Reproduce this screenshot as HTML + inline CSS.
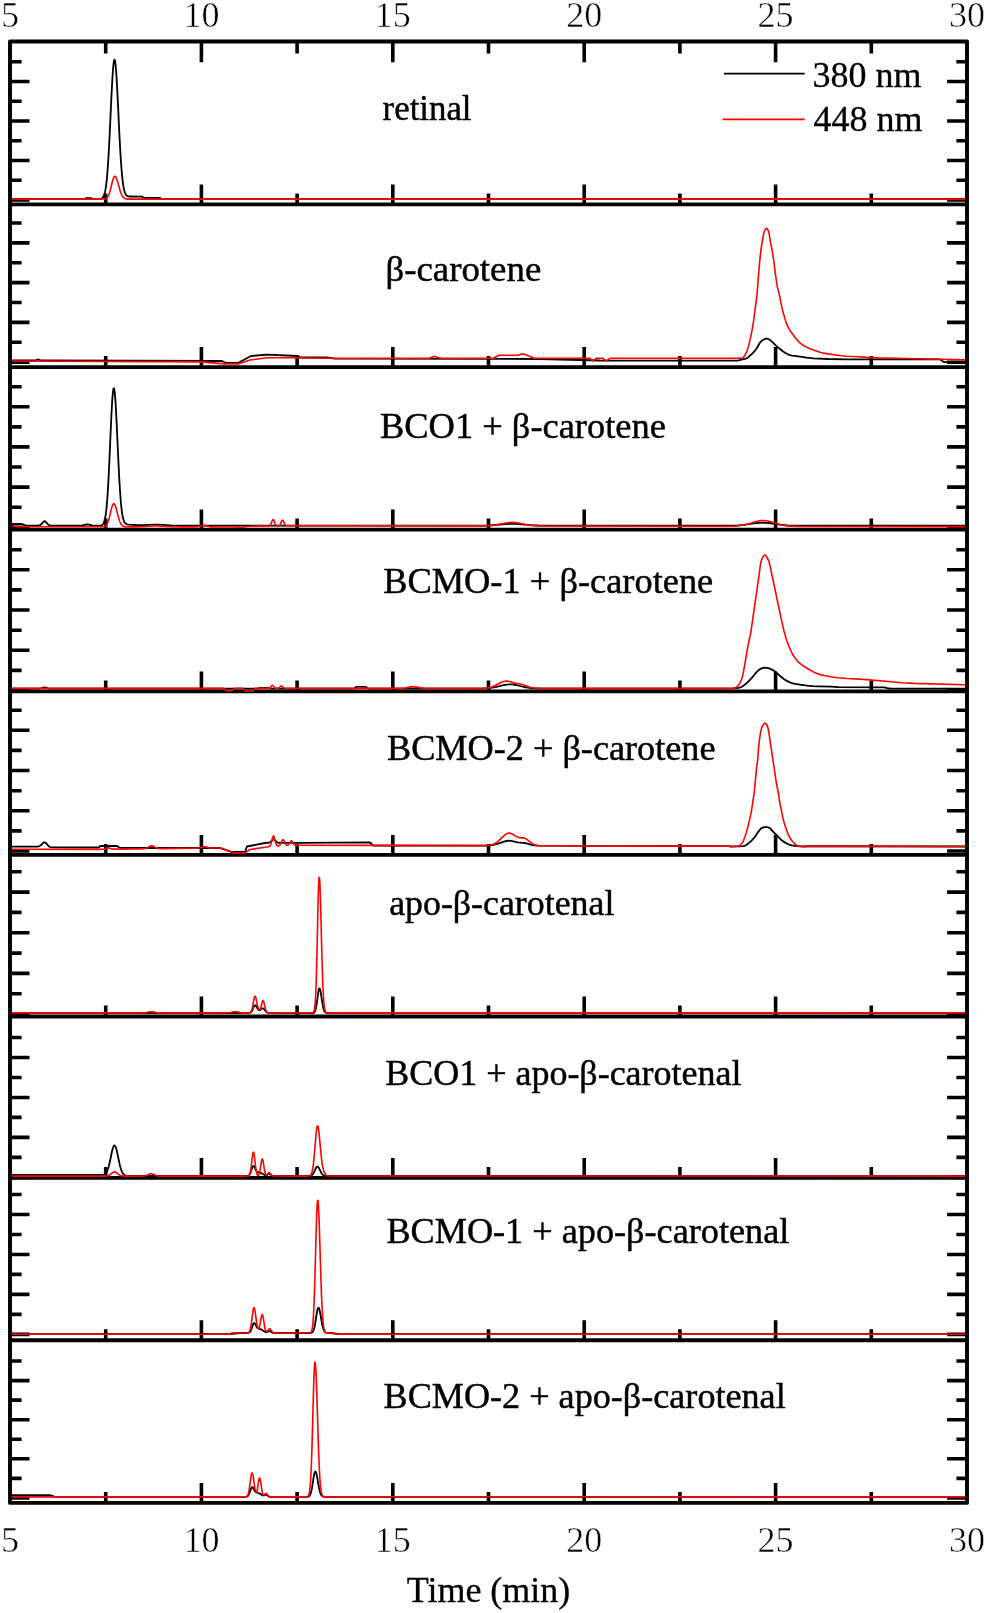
<!DOCTYPE html>
<html><head><meta charset="utf-8"><style>
html,body{margin:0;padding:0;background:#fff;width:986px;height:1613px;overflow:hidden}
svg{display:block;will-change:transform}
</style></head><body>
<svg width="986" height="1613" viewBox="0 0 986 1613"><rect width="986" height="1613" fill="#fff"/><path d="M10.0,199.9H29.5M967.0,199.9H947.1M10.0,180.2H21.6M967.0,180.2H956.4M10.0,160.5H29.5M967.0,160.5H947.1M10.0,140.7H21.6M967.0,140.7H956.4M10.0,121.0H29.5M967.0,121.0H947.1M10.0,101.3H21.6M967.0,101.3H956.4M10.0,81.5H29.5M967.0,81.5H947.1M10.0,61.8H21.6M967.0,61.8H956.4M201.4,204.4V184.4M392.8,204.4V184.4M584.2,204.4V184.4M775.6,204.4V184.4M105.7,204.4V193.4M297.1,204.4V193.4M488.5,204.4V193.4M679.9,204.4V193.4M871.3,204.4V193.4M10.0,362.2H29.5M967.0,362.2H947.1M10.0,342.3H21.6M967.0,342.3H956.4M10.0,322.4H29.5M967.0,322.4H947.1M10.0,302.5H21.6M967.0,302.5H956.4M10.0,282.6H29.5M967.0,282.6H947.1M10.0,262.8H21.6M967.0,262.8H956.4M10.0,242.9H29.5M967.0,242.9H947.1M10.0,223.0H21.6M967.0,223.0H956.4M201.4,367.1V347.1M392.8,367.1V347.1M584.2,367.1V347.1M775.6,367.1V347.1M105.7,367.1V356.1M297.1,367.1V356.1M488.5,367.1V356.1M679.9,367.1V356.1M871.3,367.1V356.1M10.0,527.3H29.5M967.0,527.3H947.1M10.0,507.2H21.6M967.0,507.2H956.4M10.0,487.1H29.5M967.0,487.1H947.1M10.0,467.0H21.6M967.0,467.0H956.4M10.0,446.9H29.5M967.0,446.9H947.1M10.0,426.9H21.6M967.0,426.9H956.4M10.0,406.8H29.5M967.0,406.8H947.1M10.0,386.7H21.6M967.0,386.7H956.4M201.4,529.6V509.6M392.8,529.6V509.6M584.2,529.6V509.6M775.6,529.6V509.6M105.7,529.6V518.6M297.1,529.6V518.6M488.5,529.6V518.6M679.9,529.6V518.6M871.3,529.6V518.6M10.0,690.5H29.5M967.0,690.5H947.1M10.0,670.4H21.6M967.0,670.4H956.4M10.0,650.3H29.5M967.0,650.3H947.1M10.0,630.2H21.6M967.0,630.2H956.4M10.0,610.0H29.5M967.0,610.0H947.1M10.0,589.9H21.6M967.0,589.9H956.4M10.0,569.8H29.5M967.0,569.8H947.1M10.0,549.7H21.6M967.0,549.7H956.4M201.4,691.4V671.4M392.8,691.4V671.4M584.2,691.4V671.4M775.6,691.4V671.4M105.7,691.4V680.4M297.1,691.4V680.4M488.5,691.4V680.4M679.9,691.4V680.4M871.3,691.4V680.4M10.0,851.0H29.5M967.0,851.0H947.1M10.0,830.9H21.6M967.0,830.9H956.4M10.0,810.8H29.5M967.0,810.8H947.1M10.0,790.7H21.6M967.0,790.7H956.4M10.0,770.5H29.5M967.0,770.5H947.1M10.0,750.4H21.6M967.0,750.4H956.4M10.0,730.3H29.5M967.0,730.3H947.1M10.0,710.2H21.6M967.0,710.2H956.4M201.4,854.9V834.9M392.8,854.9V834.9M584.2,854.9V834.9M775.6,854.9V834.9M105.7,854.9V843.9M297.1,854.9V843.9M488.5,854.9V843.9M679.9,854.9V843.9M871.3,854.9V843.9M10.0,1014.1H29.5M967.0,1014.1H947.1M10.0,993.8H21.6M967.0,993.8H956.4M10.0,973.4H29.5M967.0,973.4H947.1M10.0,953.1H21.6M967.0,953.1H956.4M10.0,932.8H29.5M967.0,932.8H947.1M10.0,912.4H21.6M967.0,912.4H956.4M10.0,892.1H29.5M967.0,892.1H947.1M10.0,871.7H21.6M967.0,871.7H956.4M201.4,1016.5V996.5M392.8,1016.5V996.5M584.2,1016.5V996.5M775.6,1016.5V996.5M105.7,1016.5V1005.5M297.1,1016.5V1005.5M488.5,1016.5V1005.5M679.9,1016.5V1005.5M871.3,1016.5V1005.5M10.0,1177.4H29.5M967.0,1177.4H947.1M10.0,1157.4H21.6M967.0,1157.4H956.4M10.0,1137.4H29.5M967.0,1137.4H947.1M10.0,1117.4H21.6M967.0,1117.4H956.4M10.0,1097.5H29.5M967.0,1097.5H947.1M10.0,1077.5H21.6M967.0,1077.5H956.4M10.0,1057.5H29.5M967.0,1057.5H947.1M10.0,1037.5H21.6M967.0,1037.5H956.4M201.4,1177.9V1157.9M392.8,1177.9V1157.9M584.2,1177.9V1157.9M775.6,1177.9V1157.9M105.7,1177.9V1166.9M297.1,1177.9V1166.9M488.5,1177.9V1166.9M679.9,1177.9V1166.9M871.3,1177.9V1166.9M10.0,1334.4H29.5M967.0,1334.4H947.1M10.0,1314.4H21.6M967.0,1314.4H956.4M10.0,1294.4H29.5M967.0,1294.4H947.1M10.0,1274.4H21.6M967.0,1274.4H956.4M10.0,1254.5H29.5M967.0,1254.5H947.1M10.0,1234.5H21.6M967.0,1234.5H956.4M10.0,1214.5H29.5M967.0,1214.5H947.1M10.0,1194.5H21.6M967.0,1194.5H956.4M201.4,1340.3V1320.3M392.8,1340.3V1320.3M584.2,1340.3V1320.3M775.6,1340.3V1320.3M105.7,1340.3V1329.3M297.1,1340.3V1329.3M488.5,1340.3V1329.3M679.9,1340.3V1329.3M871.3,1340.3V1329.3M10.0,1498.0H29.5M967.0,1498.0H947.1M10.0,1478.4H21.6M967.0,1478.4H956.4M10.0,1458.8H29.5M967.0,1458.8H947.1M10.0,1439.3H21.6M967.0,1439.3H956.4M10.0,1419.7H29.5M967.0,1419.7H947.1M10.0,1400.1H21.6M967.0,1400.1H956.4M10.0,1380.6H29.5M967.0,1380.6H947.1M10.0,1361.0H21.6M967.0,1361.0H956.4M201.4,1502.9V1482.9M392.8,1502.9V1482.9M584.2,1502.9V1482.9M775.6,1502.9V1482.9M105.7,1502.9V1491.9M297.1,1502.9V1491.9M488.5,1502.9V1491.9M679.9,1502.9V1491.9M871.3,1502.9V1491.9M201.4,41.5V62.3M392.8,41.5V62.3M584.2,41.5V62.3M775.6,41.5V62.3M105.7,41.5V53.5M297.1,41.5V53.5M488.5,41.5V53.5M679.9,41.5V53.5M871.3,41.5V53.5" stroke="#000" stroke-width="3.6" fill="none"/><path d="M10.0,41.5H967.0V1502.9H10.0ZM10.0,204.4H967.0M10.0,367.1H967.0M10.0,529.6H967.0M10.0,691.4H967.0M10.0,854.9H967.0M10.0,1016.5H967.0M10.0,1177.9H967.0M10.0,1340.3H967.0" stroke="#000" stroke-width="3.9" fill="none" stroke-linejoin="round"/><path d="M12.0,199.1 85.0,199.1 85.5,198.5 86.0,198.1 91.5,198.1 92.0,198.5 92.5,199.1 98.5,199.1 100.5,198.9 101.5,198.6 102.5,197.9 103.0,197.3 103.5,196.5 104.0,195.4 104.5,193.9 105.0,191.9 105.5,189.4 106.0,186.1 106.5,182.1 107.0,177.1 107.5,171.2 108.0,164.3 108.5,156.4 109.0,147.5 109.5,137.8 110.0,127.4 111.0,105.8 111.5,95.3 112.0,85.5 112.5,76.8 113.0,69.5 113.5,64.1 114.0,60.7 114.5,59.6 115.0,60.7 115.5,64.1 116.0,69.5 116.5,76.6 117.0,85.1 117.5,94.7 118.0,105.0 119.0,126.2 119.5,136.3 120.0,145.8 120.5,154.5 121.0,162.2 121.5,168.9 122.0,174.6 122.5,179.6 123.0,183.6 123.5,186.9 124.0,189.4 124.5,191.4 125.0,192.9 125.5,194.0 126.0,194.8 126.5,195.4 127.5,196.1 129.0,196.5 142.5,196.6 143.0,197.5 143.5,197.8 160.0,197.8 160.5,198.6 161.0,199.1 965.0,199.1" fill="none" stroke="#000" stroke-width="1.8" stroke-linejoin="round"/><path d="M12.0,199.1 100.0,199.1 103.5,199.0 105.0,198.8 106.0,198.4 107.0,197.7 107.5,197.1 108.0,196.4 108.5,195.4 109.0,194.2 109.5,192.8 110.0,191.2 111.0,187.4 112.0,183.2 112.5,181.2 113.0,179.5 113.5,178.0 114.0,177.0 114.5,176.4 115.0,176.3 115.5,176.7 116.0,177.4 116.5,178.5 117.0,179.8 118.0,183.1 119.5,188.5 120.5,191.7 121.0,193.1 121.5,194.3 122.0,195.3 123.0,196.9 124.0,197.9 125.0,198.5 126.5,198.9 130.0,199.1 965.0,199.1" fill="none" stroke="#f00" stroke-width="1.6" stroke-linejoin="round"/><path d="M12.0,360.5 35.0,360.5 38.0,359.3 41.0,360.5 222.0,361.0 226.0,363.0 238.0,363.0 251.0,356.0 267.0,354.6 298.0,356.0 300.0,357.5 327.0,357.5 335.0,358.6 540.0,359.0 600.0,360.5 738.0,360.6 742.5,359.4 745.0,358.8 746.5,358.3 748.0,357.4 751.0,354.8 753.0,352.9 755.0,350.6 756.5,348.5 757.5,347.0 759.0,344.2 760.0,342.6 761.5,341.1 762.5,340.3 764.5,339.2 766.0,338.7 767.0,338.7 768.5,339.2 770.0,340.0 771.5,341.2 774.0,343.6 776.0,345.6 779.0,348.3 782.5,351.0 785.0,352.7 788.0,354.3 790.0,355.1 792.5,355.7 800.0,356.7 806.5,357.7 813.5,358.3 828.0,359.0 846.5,359.3 940.0,359.3 944.0,362.2 965.0,362.2" fill="none" stroke="#000" stroke-width="1.8" stroke-linejoin="round"/><path d="M12.0,361.0 200.0,361.9 225.0,363.9 238.0,363.9 250.0,360.0 267.0,357.8 300.0,357.8 330.0,358.3 429.0,358.3 434.5,356.2 440.0,358.3 493.0,358.3 499.0,355.2 518.0,355.2 522.5,353.8 528.0,355.5 534.0,358.3 590.0,358.3 593.0,361.0 596.0,358.3 603.0,358.3 606.0,361.2 610.0,358.3 740.0,358.3 742.0,358.1 743.0,357.8 743.5,357.3 745.0,355.0 746.0,353.2 747.0,351.0 747.5,349.6 748.0,348.0 748.5,346.2 749.5,342.1 751.0,335.3 752.0,330.3 752.5,327.6 753.0,324.7 753.5,321.4 754.0,318.0 754.5,314.3 756.0,302.3 756.5,298.7 757.0,294.5 757.5,288.5 758.0,281.8 759.0,269.3 759.5,263.6 760.0,258.3 760.5,253.6 761.0,249.6 761.5,246.2 763.0,237.0 763.5,234.3 764.0,232.5 764.5,231.2 765.0,230.0 765.5,229.1 766.0,228.6 766.5,228.5 767.0,228.8 767.5,229.4 768.0,230.2 768.5,231.3 769.0,232.8 769.5,235.9 770.0,239.4 770.5,242.4 772.0,249.7 772.5,252.5 773.0,255.6 773.5,259.0 774.0,262.6 774.5,266.5 775.0,270.7 775.5,274.7 776.5,281.8 777.0,284.9 777.5,287.4 778.0,289.5 779.0,293.2 779.5,295.4 781.0,303.3 781.5,305.6 782.5,309.9 783.5,313.7 785.0,318.8 786.0,321.9 787.0,324.7 788.0,326.9 789.0,328.8 790.5,331.2 794.0,336.1 796.5,339.3 798.5,341.5 800.5,343.4 803.0,345.2 806.0,346.9 809.5,348.6 814.0,350.3 820.0,352.3 823.0,353.1 841.0,355.7 846.5,356.3 860.0,356.8 867.0,357.4 877.5,357.9 894.5,358.3 965.0,359.7" fill="none" stroke="#f00" stroke-width="1.6" stroke-linejoin="round"/><path d="M12.0,524.0 22.0,524.0 26.0,525.7 37.0,525.7 39.0,525.5 40.0,525.2 41.0,524.5 42.0,523.5 43.0,522.2 44.0,521.4 44.5,521.2 45.0,521.3 45.5,521.6 46.5,522.6 47.5,523.8 48.5,524.8 49.5,525.3 51.0,525.6 76.5,525.7 80.0,525.6 82.5,525.3 85.5,524.6 87.0,524.5 89.0,524.7 92.0,525.4 95.0,525.7 99.0,525.7 100.5,525.6 101.5,525.3 102.5,524.7 103.0,524.2 103.5,523.4 104.0,522.3 104.5,520.8 105.0,518.8 105.5,516.1 106.0,512.5 106.5,508.1 107.0,502.6 107.5,495.9 108.0,488.1 108.5,479.1 109.0,469.1 109.5,458.3 110.0,446.9 110.5,435.3 111.0,424.0 111.5,413.5 112.0,404.3 112.5,396.8 113.0,391.5 113.5,388.6 114.0,388.3 114.5,390.6 115.0,395.2 115.5,401.9 116.0,410.3 116.5,420.1 117.0,430.7 118.0,452.8 118.5,463.5 119.0,473.5 119.5,482.7 120.0,490.8 120.5,497.8 121.0,503.7 121.5,508.6 122.0,512.5 122.5,515.7 123.0,518.1 123.5,519.9 124.0,521.3 124.5,522.3 125.0,523.0 126.0,523.9 127.0,524.3 129.0,524.7 136.0,525.0 142.5,525.1 154.0,524.6 158.5,524.6 170.5,525.4 179.0,525.6 465.5,525.7 481.0,525.6 489.0,525.4 497.0,524.8 505.5,524.0 510.5,523.7 515.5,523.8 531.0,525.1 538.5,525.5 556.0,525.7 718.5,525.7 731.0,525.6 738.0,525.4 744.0,524.8 755.5,523.2 760.0,522.8 764.0,522.7 768.5,523.0 780.5,524.7 786.5,525.3 794.0,525.6 965.0,525.7" fill="none" stroke="#000" stroke-width="1.8" stroke-linejoin="round"/><path d="M12.0,525.5 18.0,526.7 99.5,526.8 102.5,526.8 104.0,526.5 105.0,526.2 106.0,525.4 106.5,524.8 107.0,524.0 107.5,523.1 108.0,521.9 108.5,520.4 109.0,518.8 110.0,514.9 111.0,510.6 111.5,508.6 112.0,506.8 112.5,505.4 113.0,504.3 113.5,503.7 114.0,503.7 114.5,504.1 115.0,505.0 115.5,506.2 116.0,507.8 117.0,511.6 118.0,515.5 119.0,519.1 119.5,520.7 120.0,522.0 120.5,523.1 121.0,524.0 121.5,524.8 122.5,525.8 123.5,526.4 125.0,526.7 133.0,526.9 141.5,526.7 153.5,526.0 158.0,525.9 171.0,526.7 181.0,526.9 194.5,526.9 197.5,526.8 199.5,526.5 202.5,525.6 204.0,525.5 205.5,525.6 209.0,526.6 211.5,526.9 230.0,527.0 242.0,527.3 250.0,526.2 267.5,526.0 269.0,525.9 269.5,525.8 270.0,525.4 270.5,524.8 271.0,523.9 272.0,521.2 272.5,520.0 273.0,519.5 273.5,519.7 274.0,520.7 275.0,523.4 275.5,524.4 276.0,525.2 276.5,525.6 277.5,525.9 278.5,525.8 279.0,525.7 279.5,525.3 280.0,524.7 280.5,523.8 281.5,521.4 282.0,520.4 282.5,520.1 283.0,520.4 283.5,521.4 284.5,523.8 285.0,524.7 285.5,525.3 286.0,525.6 287.0,525.8 475.0,525.9 485.0,525.9 490.5,525.6 495.0,525.1 500.5,524.1 506.0,523.0 509.5,522.5 512.5,522.4 515.5,522.6 520.0,523.4 526.5,524.7 531.0,525.4 536.5,525.8 549.5,526.0 720.0,526.3 731.0,526.2 736.5,526.0 741.0,525.5 745.0,524.8 749.5,523.6 755.5,521.7 758.5,521.0 761.0,520.6 763.5,520.5 766.0,520.7 769.0,521.3 778.0,524.1 782.0,525.0 786.0,525.7 791.0,526.1 800.5,526.4 965.0,526.6" fill="none" stroke="#f00" stroke-width="1.6" stroke-linejoin="round"/><path d="M12.0,688.6 38.0,688.6 40.0,688.5 41.5,688.2 43.5,687.6 44.5,687.4 45.5,687.5 48.0,688.3 50.0,688.6 258.0,688.6 260.0,687.8 268.0,687.8 270.0,688.6 354.0,688.6 356.0,686.8 366.0,686.8 368.0,688.6 473.0,688.6 482.5,688.5 488.0,688.2 492.0,687.7 496.5,686.9 503.5,685.1 506.5,684.6 509.5,684.3 512.5,684.4 516.0,685.0 524.0,687.0 528.0,687.7 532.5,688.3 539.0,688.5 725.0,688.6 734.0,688.4 736.5,688.2 739.5,687.6 741.5,687.0 743.0,686.1 747.0,682.8 749.5,680.3 752.0,677.7 755.5,673.3 757.0,671.7 759.0,669.9 760.5,668.8 762.5,668.1 764.0,667.7 766.0,667.8 768.0,668.1 770.0,668.7 772.5,669.9 774.5,671.1 776.5,672.6 780.5,676.3 783.5,678.7 786.0,680.4 789.5,682.1 792.0,683.2 795.0,683.9 805.0,685.4 812.0,686.2 817.5,686.4 831.0,686.6 838.5,687.2 884.0,687.4 885.5,687.7 887.0,688.2 890.5,688.5 965.0,688.6" fill="none" stroke="#000" stroke-width="1.8" stroke-linejoin="round"/><path d="M12.0,688.4 224.0,688.4 226.0,690.8 232.0,690.8 234.0,688.4 243.0,688.4 245.0,691.0 253.0,691.0 255.0,688.4 267.5,688.4 269.0,688.3 270.0,687.9 270.5,687.4 271.5,686.0 272.0,685.5 272.5,685.4 273.0,685.7 274.5,687.6 275.0,688.0 276.0,688.3 277.5,688.4 278.5,688.2 279.5,687.5 280.5,686.4 281.0,686.0 281.5,685.9 282.0,686.2 283.5,687.7 284.5,688.3 391.5,688.4 399.5,688.4 403.0,688.2 406.5,687.7 410.5,686.9 413.0,686.7 415.5,686.9 421.0,687.9 424.5,688.3 473.0,688.4 481.5,688.3 485.5,688.1 488.5,687.7 491.0,687.2 493.5,686.3 496.5,684.8 500.5,682.7 502.5,681.8 504.5,681.3 506.5,681.1 508.5,681.3 515.0,683.1 521.5,684.3 524.5,685.2 529.5,686.9 532.5,687.7 535.5,688.2 541.0,688.4 724.5,688.4 733.0,688.1 735.0,687.9 736.0,687.4 737.0,686.6 738.5,685.0 739.5,683.6 740.5,681.8 741.5,679.5 742.0,678.1 742.5,676.4 743.0,674.2 743.5,671.7 745.5,660.4 747.0,651.3 747.5,648.4 748.0,645.7 748.5,643.3 750.0,636.5 750.5,633.9 751.0,631.0 751.5,627.8 753.0,617.4 754.5,606.7 755.5,599.8 757.0,589.7 758.5,579.0 759.5,571.9 760.0,568.0 760.5,564.4 761.0,561.7 761.5,560.2 762.5,557.8 763.0,556.9 763.5,556.1 764.0,555.5 764.5,555.2 765.0,555.1 765.5,555.3 766.0,555.8 766.5,556.5 767.5,558.3 768.5,560.5 769.0,561.8 769.5,563.5 770.0,565.6 771.5,572.9 773.5,582.1 776.0,594.0 778.0,603.7 780.5,615.4 783.0,626.8 784.0,631.1 785.0,634.8 786.0,638.1 787.0,641.2 788.0,643.9 789.5,647.6 791.0,651.0 792.5,654.0 794.0,656.5 795.5,658.6 797.0,660.5 798.5,662.2 800.5,663.9 803.0,665.7 809.5,669.7 813.5,671.9 817.0,673.4 819.5,674.4 824.0,675.5 832.5,677.0 837.5,677.7 847.0,678.5 863.5,679.4 891.0,681.8 902.0,682.8 914.0,683.4 965.0,684.7" fill="none" stroke="#f00" stroke-width="1.6" stroke-linejoin="round"/><path d="M12.0,846.7 35.5,846.7 37.5,846.6 39.0,846.3 40.0,845.8 41.0,845.1 43.0,843.0 44.0,842.4 44.5,842.3 45.0,842.4 46.0,843.1 48.0,845.4 49.0,846.4 50.0,847.0 51.5,847.4 99.0,847.5 100.0,846.0 117.0,846.0 120.0,848.0 220.0,847.8 230.0,851.5 232.0,852.0 245.0,852.0 247.0,846.5 265.0,843.0 267.5,842.9 269.0,842.7 270.0,842.2 271.0,841.4 272.5,839.9 273.0,839.6 273.5,839.5 274.0,839.6 275.0,840.3 276.5,841.8 277.5,842.5 278.5,842.8 300.0,842.8 370.0,842.3 373.0,845.5 478.5,845.7 486.5,845.6 490.5,845.4 493.5,844.9 496.5,844.2 504.0,841.6 506.5,841.0 508.5,840.7 510.5,840.8 513.5,841.3 517.5,842.3 521.0,842.7 524.5,843.0 527.5,843.7 531.5,844.8 534.5,845.4 538.0,845.7 729.5,846.1 730.0,846.5 739.0,846.4 743.0,846.1 744.5,845.9 745.5,845.5 747.0,844.5 750.5,841.6 752.5,839.7 754.5,837.4 755.5,836.0 757.5,832.9 759.5,830.2 760.5,829.0 761.5,828.2 763.5,827.4 765.0,827.1 766.5,827.0 768.5,827.5 769.5,827.9 770.5,828.6 773.0,831.6 777.5,836.0 780.0,838.7 781.5,840.1 784.0,841.9 787.0,843.6 789.5,844.7 791.5,845.3 795.5,845.9 800.0,846.4 806.0,846.5 806.5,846.2 965.0,846.5" fill="none" stroke="#000" stroke-width="1.8" stroke-linejoin="round"/><path d="M12.0,849.2 100.0,849.4 103.0,849.3 104.5,849.0 107.0,847.9 108.0,847.7 109.0,847.9 111.0,848.8 112.5,849.1 139.5,848.9 143.5,848.8 145.5,848.5 147.0,848.0 150.0,846.3 151.0,845.9 152.0,845.8 153.0,846.1 156.0,847.7 157.5,848.3 159.5,848.6 193.0,848.3 196.5,848.2 198.5,848.0 202.5,846.9 204.0,846.7 205.5,846.8 209.0,847.8 211.5,848.0 220.0,848.0 230.0,851.0 232.0,852.9 245.0,852.9 250.0,849.5 265.0,847.3 268.5,846.7 269.5,846.3 270.0,845.8 270.5,845.1 271.0,843.8 271.5,842.1 272.5,838.0 273.0,836.4 273.5,835.8 274.0,836.4 274.5,837.9 275.5,841.9 276.0,843.6 276.5,844.8 277.0,845.5 277.5,845.8 278.5,845.9 279.5,845.5 280.0,844.9 280.5,844.1 282.0,840.8 282.5,840.0 283.0,839.6 283.5,839.9 284.0,840.7 285.0,842.9 285.5,843.9 286.0,844.6 286.5,845.1 287.0,845.3 287.5,845.3 288.0,845.2 288.5,844.8 289.0,844.2 290.5,841.5 291.0,840.9 291.5,840.7 292.0,841.1 292.5,841.8 293.5,843.6 294.0,844.3 294.5,844.7 295.5,845.1 475.0,845.6 484.0,845.5 488.0,845.3 490.5,845.0 492.5,844.5 494.5,843.7 496.5,842.5 498.5,840.9 503.5,836.1 505.0,834.8 506.5,833.8 508.0,833.2 509.5,833.1 511.0,833.5 512.5,834.2 516.0,836.4 517.5,837.1 519.0,837.6 523.0,837.9 524.5,838.2 526.0,838.8 527.5,839.8 531.0,842.6 533.0,843.9 534.5,844.7 536.5,845.2 539.0,845.6 729.5,846.1 730.0,846.5 737.0,846.3 738.5,846.2 739.5,845.7 740.5,844.8 742.0,843.1 742.5,842.5 743.0,841.6 743.5,840.5 745.0,836.5 746.0,833.5 747.0,830.0 748.0,826.3 749.0,822.2 750.0,817.9 751.0,813.2 751.5,810.5 752.0,807.3 753.0,800.5 753.5,797.3 754.0,793.9 754.5,789.5 755.0,784.4 755.5,779.0 756.0,773.8 756.5,768.9 757.0,764.8 757.5,761.1 758.0,755.7 758.5,748.6 759.0,743.5 759.5,739.4 760.0,735.8 760.5,732.9 761.0,730.6 761.5,728.6 762.0,727.0 762.5,725.9 763.5,724.3 764.0,723.7 764.5,723.3 765.0,723.2 765.5,723.4 766.0,723.8 766.5,724.5 767.5,726.3 768.0,728.0 768.5,730.7 769.0,733.6 769.5,736.9 775.5,777.2 776.0,780.6 776.5,783.8 777.0,786.5 778.0,791.0 778.5,793.7 779.5,800.6 780.0,803.5 782.5,816.1 783.0,818.4 783.5,820.4 784.5,823.8 785.5,826.9 787.0,831.2 788.0,833.9 789.0,836.1 790.5,838.7 792.0,840.8 793.5,842.5 796.0,844.9 797.0,845.6 798.0,846.1 801.0,846.4 806.0,846.5 806.5,846.2 965.0,846.5" fill="none" stroke="#f00" stroke-width="1.6" stroke-linejoin="round"/><path d="M12.0,1013.0 243.0,1013.0 248.0,1013.0 249.5,1012.8 250.5,1012.5 251.0,1012.2 251.5,1011.7 252.0,1010.9 252.5,1010.0 254.0,1006.5 254.5,1005.7 255.0,1005.3 255.5,1005.4 256.0,1005.9 257.5,1008.6 258.0,1009.4 258.5,1009.9 259.0,1010.2 259.5,1010.2 260.0,1010.1 261.0,1009.3 262.0,1008.5 262.5,1008.3 263.0,1008.3 263.5,1008.6 264.5,1009.7 265.5,1011.1 266.5,1012.1 267.5,1012.6 269.0,1012.9 310.5,1013.0 312.5,1013.0 313.5,1012.8 314.0,1012.6 314.5,1012.1 315.0,1011.3 315.5,1010.0 316.0,1008.0 316.5,1005.3 317.0,1001.9 318.0,994.2 318.5,991.0 319.0,988.9 319.5,988.4 320.0,989.3 320.5,991.3 321.0,994.1 322.0,1000.8 322.5,1003.9 323.0,1006.6 323.5,1008.7 324.0,1010.2 324.5,1011.3 325.0,1012.0 325.5,1012.5 326.5,1012.9 965.0,1013.0" fill="none" stroke="#000" stroke-width="1.8" stroke-linejoin="round"/><path d="M12.0,1012.9 139.5,1012.9 144.0,1012.8 146.5,1012.5 149.5,1011.8 151.0,1011.7 153.0,1011.9 156.0,1012.6 159.0,1012.9 224.0,1012.9 228.0,1012.8 230.5,1012.5 233.5,1011.8 235.0,1011.7 237.0,1011.9 240.0,1012.6 243.0,1012.9 248.5,1012.9 249.5,1012.8 250.5,1012.4 251.0,1011.8 251.5,1010.9 252.0,1009.4 252.5,1007.3 253.0,1004.6 253.5,1001.7 254.0,998.9 254.5,996.9 255.0,996.1 255.5,996.6 256.0,998.2 256.5,1000.6 257.0,1003.3 257.5,1005.7 258.0,1007.6 258.5,1008.9 259.0,1009.6 259.5,1009.8 260.0,1009.4 260.5,1008.4 261.0,1006.9 262.0,1002.7 262.5,1001.1 263.0,1000.4 263.5,1001.0 264.0,1002.6 265.0,1007.4 265.5,1009.5 266.0,1011.0 266.5,1011.9 267.0,1012.4 268.0,1012.8 310.5,1012.9 312.5,1012.8 313.0,1012.6 313.5,1012.2 314.0,1011.2 314.5,1009.2 315.0,1005.2 315.5,998.3 316.0,987.3 316.5,971.4 317.0,951.0 317.5,927.7 318.0,905.0 318.5,886.9 319.0,877.3 319.5,877.9 320.0,886.4 320.5,901.3 321.0,920.1 321.5,940.2 322.0,959.2 322.5,975.5 323.0,988.4 323.5,997.8 324.0,1004.1 324.5,1008.1 325.0,1010.4 325.5,1011.7 326.0,1012.3 326.5,1012.7 328.0,1012.9 965.0,1012.9" fill="none" stroke="#f00" stroke-width="1.6" stroke-linejoin="round"/><path d="M12.0,1175.0 98.0,1175.0 102.0,1175.0 103.5,1174.8 104.5,1174.4 105.5,1173.6 106.0,1173.0 106.5,1172.3 107.0,1171.4 107.5,1170.2 108.0,1168.8 108.5,1167.2 109.0,1165.3 109.5,1163.2 110.5,1158.6 111.5,1153.7 112.0,1151.4 112.5,1149.4 113.0,1147.7 113.5,1146.4 114.0,1145.6 114.5,1145.4 115.0,1145.7 115.5,1146.5 116.0,1147.8 116.5,1149.5 117.0,1151.6 118.0,1156.4 119.0,1161.3 119.5,1163.6 120.0,1165.7 120.5,1167.6 121.0,1169.3 121.5,1170.7 122.0,1171.9 122.5,1172.8 123.0,1173.6 124.0,1174.7 125.0,1175.3 126.5,1175.7 130.0,1176.0 244.5,1176.0 247.0,1176.0 248.0,1175.8 249.0,1175.3 249.5,1174.7 250.0,1173.9 250.5,1172.8 252.0,1168.4 252.5,1167.2 253.0,1166.3 253.5,1166.0 254.0,1166.3 254.5,1167.1 256.0,1170.3 256.5,1171.1 257.0,1171.7 258.0,1172.2 260.0,1172.6 261.5,1173.3 264.0,1174.7 265.0,1175.2 266.0,1175.3 267.0,1175.1 268.5,1174.1 269.0,1174.0 269.5,1174.0 270.5,1174.6 271.5,1175.4 272.5,1175.8 274.5,1176.0 307.5,1176.0 310.0,1175.9 311.0,1175.7 312.0,1175.1 313.0,1174.0 314.0,1172.3 315.5,1169.0 316.0,1168.0 316.5,1167.2 317.0,1166.7 317.5,1166.6 318.0,1166.9 318.5,1167.4 319.0,1168.1 321.0,1172.2 322.0,1173.8 323.0,1174.9 324.0,1175.5 325.5,1175.9 965.0,1176.1" fill="none" stroke="#000" stroke-width="1.8" stroke-linejoin="round"/><path d="M12.0,1176.1 102.5,1176.1 106.0,1176.0 107.5,1175.8 109.0,1175.3 110.5,1174.4 112.5,1172.7 113.5,1172.1 114.5,1171.9 115.5,1172.1 116.5,1172.7 118.5,1174.4 120.0,1175.3 121.5,1175.8 124.0,1176.1 141.0,1176.1 143.5,1176.0 145.5,1175.7 147.5,1174.9 149.5,1174.0 150.5,1173.7 151.5,1173.7 153.0,1174.2 155.5,1175.3 157.0,1175.8 159.5,1176.1 246.0,1176.1 248.0,1176.0 248.5,1175.9 249.0,1175.6 249.5,1174.9 250.0,1173.6 250.5,1171.5 251.0,1168.3 251.5,1164.2 252.0,1159.7 252.5,1155.6 253.0,1152.8 253.5,1152.1 254.0,1153.7 254.5,1157.2 255.5,1166.0 256.0,1169.7 256.5,1172.4 257.0,1174.2 257.5,1175.1 258.0,1175.4 258.5,1175.3 259.0,1174.5 259.5,1173.1 260.0,1170.8 260.5,1167.7 261.0,1164.2 261.5,1161.1 262.0,1159.1 262.5,1159.0 263.0,1160.6 263.5,1163.5 264.0,1167.0 264.5,1170.2 265.0,1172.6 265.5,1174.2 266.0,1174.9 266.5,1175.1 267.0,1174.8 268.5,1173.1 269.0,1172.8 269.5,1172.9 270.0,1173.2 271.5,1175.1 272.5,1175.8 273.5,1176.0 306.5,1176.1 308.5,1176.0 309.5,1175.8 310.0,1175.6 310.5,1175.2 311.0,1174.6 311.5,1173.5 312.0,1172.0 312.5,1169.8 313.0,1166.8 313.5,1163.0 314.0,1158.2 314.5,1152.7 315.5,1140.7 316.0,1135.0 316.5,1130.4 317.0,1127.1 317.5,1125.7 318.0,1126.3 318.5,1128.6 319.0,1132.5 319.5,1137.5 320.5,1148.8 321.0,1154.2 321.5,1158.9 322.0,1162.7 322.5,1165.8 323.0,1168.0 323.5,1169.8 324.0,1171.2 324.5,1172.4 325.0,1173.5 325.5,1174.4 326.0,1175.1 326.5,1175.5 327.5,1176.0 965.0,1176.1" fill="none" stroke="#f00" stroke-width="1.6" stroke-linejoin="round"/><path d="M12.0,1334.2 230.0,1334.0 240.0,1333.0 247.0,1333.0 248.5,1332.8 249.5,1332.4 250.0,1332.0 250.5,1331.3 251.0,1330.3 251.5,1329.0 252.5,1326.1 253.0,1324.7 253.5,1323.7 254.0,1323.1 254.5,1323.2 255.0,1323.7 256.5,1326.6 257.0,1327.4 257.5,1328.0 258.0,1328.4 259.0,1328.8 260.5,1329.1 262.0,1329.9 264.5,1331.6 265.5,1332.0 266.5,1332.2 267.5,1332.0 269.0,1331.1 269.5,1330.9 270.0,1331.0 272.0,1332.4 273.0,1332.8 306.5,1333.0 310.0,1333.0 311.0,1332.9 312.0,1332.5 312.5,1332.1 313.0,1331.4 313.5,1330.4 314.0,1328.9 314.5,1327.0 315.0,1324.5 315.5,1321.5 316.5,1314.9 317.0,1311.9 317.5,1309.5 318.0,1308.0 318.5,1307.6 319.0,1308.3 319.5,1309.8 320.0,1312.0 320.5,1314.7 321.5,1320.5 322.0,1323.3 322.5,1325.7 323.0,1327.7 323.5,1329.3 324.0,1330.5 324.5,1331.4 325.0,1332.0 326.0,1332.6 327.5,1332.9 330.0,1333.0 340.0,1334.2 965.0,1334.2" fill="none" stroke="#000" stroke-width="1.8" stroke-linejoin="round"/><path d="M12.0,1334.2 230.0,1334.2 232.0,1333.0 246.0,1333.0 247.5,1332.9 248.5,1332.6 249.0,1332.2 249.5,1331.5 250.0,1330.2 250.5,1328.4 251.0,1325.7 251.5,1322.4 252.5,1314.5 253.0,1311.0 253.5,1308.5 254.0,1307.7 254.5,1308.5 255.0,1310.8 255.5,1314.2 256.0,1318.0 256.5,1321.7 257.0,1324.7 257.5,1327.0 258.0,1328.3 258.5,1328.6 259.0,1328.1 259.5,1326.8 260.0,1324.6 260.5,1321.7 261.0,1318.7 261.5,1316.1 262.0,1314.6 262.5,1314.7 263.0,1316.4 263.5,1319.3 264.5,1326.0 265.0,1328.6 265.5,1330.4 266.0,1331.4 266.5,1331.8 267.0,1331.6 267.5,1331.1 268.5,1329.7 269.0,1329.1 269.5,1328.8 270.0,1328.9 270.5,1329.4 272.0,1331.6 272.5,1332.2 273.5,1332.8 275.0,1333.0 308.0,1333.0 309.5,1332.9 310.5,1332.6 311.0,1332.2 311.5,1331.3 312.0,1329.7 312.5,1326.8 313.0,1322.1 313.5,1315.0 314.0,1304.8 314.5,1291.3 315.0,1274.7 315.5,1256.0 316.0,1236.9 316.5,1219.8 317.0,1206.9 317.5,1200.3 318.0,1200.7 318.5,1206.9 319.0,1217.9 319.5,1232.4 320.0,1248.8 320.5,1265.5 321.0,1281.2 321.5,1294.9 322.0,1306.2 322.5,1315.0 323.0,1321.4 323.5,1325.8 324.0,1328.7 324.5,1330.6 325.0,1331.7 325.5,1332.3 326.0,1332.7 327.0,1332.9 330.0,1333.0 340.0,1334.2 965.0,1334.2" fill="none" stroke="#f00" stroke-width="1.6" stroke-linejoin="round"/><path d="M12.0,1495.2 50.0,1495.2 55.0,1496.9 243.0,1496.9 245.5,1496.9 246.5,1496.7 247.5,1496.3 248.0,1495.9 248.5,1495.2 249.0,1494.2 249.5,1493.0 250.5,1490.1 251.0,1488.8 251.5,1487.8 252.0,1487.2 252.5,1487.2 253.0,1487.7 254.5,1490.6 255.0,1491.4 255.5,1491.9 256.5,1492.5 258.5,1493.0 260.0,1493.8 262.0,1495.1 263.0,1495.5 264.0,1495.4 265.5,1494.7 266.0,1494.7 266.5,1494.9 268.5,1496.4 269.5,1496.8 304.0,1496.9 307.0,1496.9 308.0,1496.7 309.0,1496.3 309.5,1495.8 310.0,1495.1 310.5,1494.0 311.0,1492.5 311.5,1490.4 312.0,1487.8 312.5,1484.8 313.5,1478.2 314.0,1475.2 314.5,1473.0 315.0,1471.7 315.5,1471.6 316.0,1472.4 316.5,1474.1 317.0,1476.4 317.5,1479.1 318.5,1485.0 319.0,1487.7 319.5,1490.0 320.0,1491.9 320.5,1493.5 321.0,1494.6 321.5,1495.4 322.0,1496.0 323.0,1496.6 324.5,1496.9 965.0,1496.9" fill="none" stroke="#000" stroke-width="1.8" stroke-linejoin="round"/><path d="M12.0,1496.9 243.0,1496.9 245.5,1496.8 246.5,1496.6 247.0,1496.2 247.5,1495.6 248.0,1494.6 248.5,1492.9 249.0,1490.6 249.5,1487.5 250.0,1483.9 250.5,1480.1 251.0,1476.7 251.5,1474.2 252.0,1473.0 252.5,1473.5 253.0,1475.5 253.5,1478.7 254.5,1486.0 255.0,1489.1 255.5,1491.4 256.0,1492.5 256.5,1492.4 257.0,1491.0 257.5,1488.4 258.5,1481.8 259.0,1479.2 259.5,1477.9 260.0,1478.5 260.5,1480.7 261.0,1483.9 261.5,1487.5 262.0,1490.6 262.5,1493.0 263.0,1494.4 263.5,1495.1 264.0,1495.0 265.5,1493.6 266.0,1493.4 266.5,1493.6 267.0,1494.1 268.0,1495.5 268.5,1496.0 269.5,1496.7 271.0,1496.9 305.0,1496.9 306.5,1496.8 307.5,1496.6 308.0,1496.2 308.5,1495.5 309.0,1494.2 309.5,1491.8 310.0,1487.9 310.5,1481.8 311.0,1473.0 311.5,1461.0 312.0,1445.9 312.5,1428.3 313.0,1409.4 313.5,1391.1 314.0,1375.8 314.5,1365.6 315.0,1362.0 315.5,1364.8 316.0,1372.8 316.5,1385.1 317.0,1400.2 318.0,1433.2 318.5,1448.3 319.0,1461.3 319.5,1471.9 320.0,1480.1 320.5,1486.0 321.0,1490.2 321.5,1492.9 322.0,1494.6 322.5,1495.7 323.0,1496.2 324.0,1496.7 965.0,1496.9" fill="none" stroke="#f00" stroke-width="1.6" stroke-linejoin="round"/><path d="M723.9,73.6H804.7" stroke="#000" stroke-width="1.8"/><path d="M722.6,119.4H804.7" stroke="#f00" stroke-width="1.8"/><g font-family='"Liberation Serif", serif' fill="#000"><text x="812.4" y="87.0" text-anchor="start" font-size="36" stroke="#000" stroke-width="0.3">380 nm</text><text x="813.4" y="130.8" text-anchor="start" font-size="36" stroke="#000" stroke-width="0.3">448 nm</text><text x="10.0" y="26.7" text-anchor="middle" font-size="36" stroke="#fff" stroke-width="0.5">5</text><text x="10.0" y="1551.5" text-anchor="middle" font-size="36" stroke="#fff" stroke-width="0.5">5</text><text x="201.4" y="26.7" text-anchor="middle" font-size="36" stroke="#fff" stroke-width="0.5">10</text><text x="201.4" y="1551.5" text-anchor="middle" font-size="36" stroke="#fff" stroke-width="0.5">10</text><text x="392.8" y="26.7" text-anchor="middle" font-size="36" stroke="#fff" stroke-width="0.5">15</text><text x="392.8" y="1551.5" text-anchor="middle" font-size="36" stroke="#fff" stroke-width="0.5">15</text><text x="584.2" y="26.7" text-anchor="middle" font-size="36" stroke="#fff" stroke-width="0.5">20</text><text x="584.2" y="1551.5" text-anchor="middle" font-size="36" stroke="#fff" stroke-width="0.5">20</text><text x="775.6" y="26.7" text-anchor="middle" font-size="36" stroke="#fff" stroke-width="0.5">25</text><text x="775.6" y="1551.5" text-anchor="middle" font-size="36" stroke="#fff" stroke-width="0.5">25</text><text x="967.0" y="26.7" text-anchor="middle" font-size="36" stroke="#fff" stroke-width="0.5">30</text><text x="967.0" y="1551.5" text-anchor="middle" font-size="36" stroke="#fff" stroke-width="0.5">30</text><text x="488.5" y="1602.3" text-anchor="middle" font-size="36" stroke="#000" stroke-width="0.3">Time (min)</text><text x="382.61" y="120.2" font-size="36" textLength="88.92" lengthAdjust="spacingAndGlyphs" stroke="#000" stroke-width="0.45">retinal</text><text x="385.44" y="281.0" font-size="36" textLength="155.82" lengthAdjust="spacingAndGlyphs" stroke="#000" stroke-width="0.45">β-carotene</text><text x="379.99" y="437.5" font-size="36" textLength="285.88" lengthAdjust="spacingAndGlyphs" stroke="#000" stroke-width="0.45">BCO1 + β-carotene</text><text x="383.19" y="593.2" font-size="36" textLength="330.05" lengthAdjust="spacingAndGlyphs" stroke="#000" stroke-width="0.45">BCMO-1 + β-carotene</text><text x="386.99" y="760.0" font-size="36" textLength="328.55" lengthAdjust="spacingAndGlyphs" stroke="#000" stroke-width="0.45">BCMO-2 + β-carotene</text><text x="389.20" y="914.7" font-size="36" textLength="225.18" lengthAdjust="spacingAndGlyphs" stroke="#000" stroke-width="0.45">apo-β-carotenal</text><text x="385.20" y="1084.5" font-size="36" textLength="356.31" lengthAdjust="spacingAndGlyphs" stroke="#000" stroke-width="0.45">BCO1 + apo-β-carotenal</text><text x="386.40" y="1242.8" font-size="36" textLength="402.91" lengthAdjust="spacingAndGlyphs" stroke="#000" stroke-width="0.45">BCMO-1 + apo-β-carotenal</text><text x="383.60" y="1408.0" font-size="36" textLength="402.11" lengthAdjust="spacingAndGlyphs" stroke="#000" stroke-width="0.45">BCMO-2 + apo-β-carotenal</text></g></svg>
</body></html>
